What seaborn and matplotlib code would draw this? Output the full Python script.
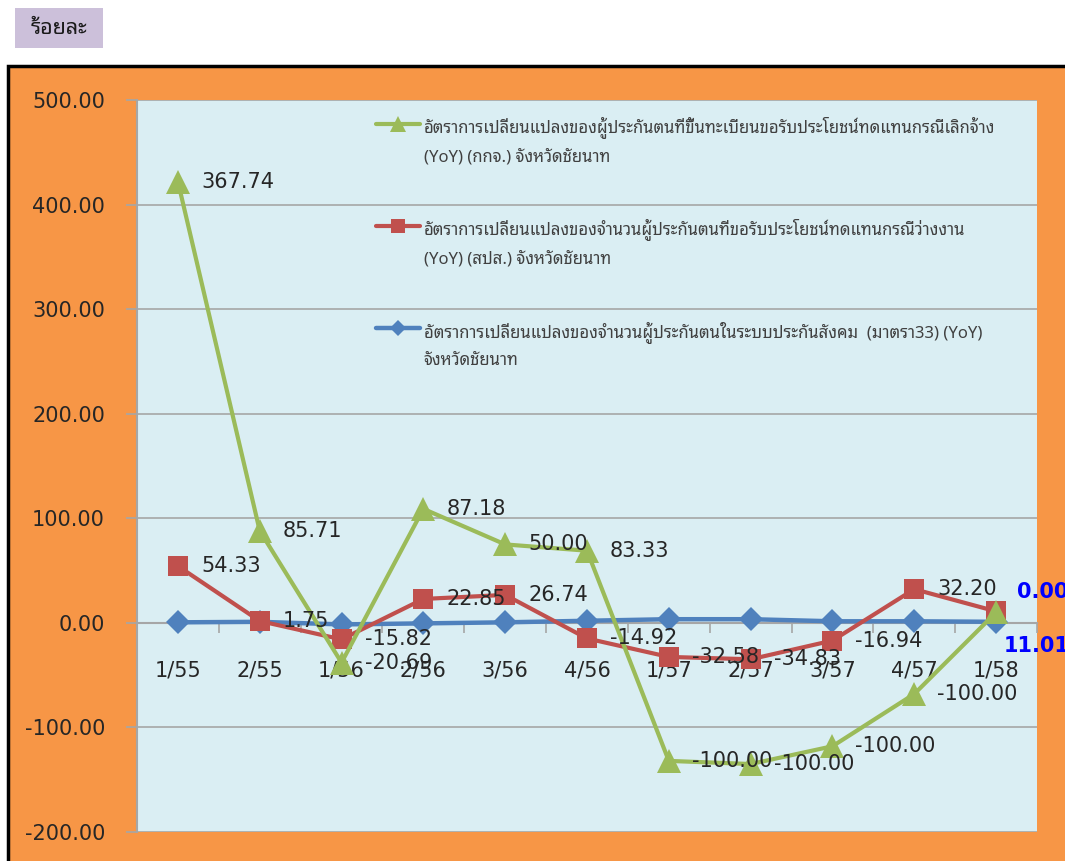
import matplotlib
matplotlib.use("Agg")
import numpy as np
import pandas as pd
import matplotlib.pyplot as plt
import seaborn as sns
from matplotlib.patches import Rectangle
from matplotlib.ticker import FormatStrFormatter, FixedLocator
from matplotlib.legend_handler import HandlerLine2D

# ข้อมูล (อ่านจากกราฟ)
quarters = ["1/55", "2/55", "1/56", "2/56", "3/56", "4/56", "1/57", "2/57", "3/57", "4/57", "1/58"]

green_vals = [422, 88, -38, 109, 75, 69, -132, -135, -118, -68, 10]
green_labels = ["367.74", "85.71", "-20.69", "87.18", "50.00", "83.33",
                "-100.00", "-100.00", "-100.00", "-100.00", "0.00"]

red_vals = [54.33, 1.75, -15.82, 22.85, 26.74, -14.92, -32.58, -34.83, -16.94, 32.20, 11.01]
red_labels = ["54.33", "1.75", "-15.82", "22.85", "26.74", "-14.92",
              "-32.58", "-34.83", "-16.94", "32.20", "11.01"]

blue_vals = [0.5, 1.0, -1.5, -0.5, 0.5, 2.0, 3.5, 3.5, 1.5, 1.5, 1.0]

green_name = "อัตราการเปลี่ยนแปลงของผู้ประกันตนที่ขึ้นทะเบียนขอรับประโยชน์ทดแทนกรณีเลิกจ้าง\n(YoY) (กกจ.) จังหวัดชัยนาท"
red_name = "อัตราการเปลี่ยนแปลงของจำนวนผู้ประกันตนที่ขอรับประโยชน์ทดแทนกรณีว่างงาน\n(YoY) (สปส.) จังหวัดชัยนาท"
blue_name = "อัตราการเปลี่ยนแปลงของจำนวนผู้ประกันตนในระบบประกันสังคม  (มาตรา33) (YoY)\nจังหวัดชัยนาท"

df = pd.DataFrame({"q": quarters, "green": green_vals, "red": red_vals, "blue": blue_vals})

sns.set_style("white")
plt.rcParams["font.family"] = ["DejaVu Sans"]
thai = ["Noto Sans Thai Looped", "DejaVu Sans"]

c_green = "#9BBB59"
c_red = "#C0504D"
c_blue = "#4F81BD"
c_orange = "#F79646"
c_plot = "#DAEEF3"
c_grid = "#A6A6A6"
c_txt = "#262626"

fig = plt.figure(figsize=(10.65, 8.61), dpi=100, facecolor="white")
W, H = 1065, 861

# พื้นหลังส้ม
fig.patches.append(Rectangle((8 / W, -0.2), 1.2, (1 - 66 / H) + 0.2, transform=fig.transFigure,
                             facecolor=c_orange, edgecolor="black", linewidth=2.5, zorder=-2))
# กล่อง "ร้อยละ"
fig.patches.append(Rectangle((15 / W, 1 - 48 / H), 88 / W, 40 / H, transform=fig.transFigure,
                             facecolor="#CCC0DA", edgecolor="none", zorder=-1))
fig.text(59 / W, 1 - 28 / H, "ร้อยละ", family=thai, fontsize=15.5, color="#1a1a1a",
         fontweight="light", ha="center", va="center")

ax = fig.add_axes([137 / W, 1 - 832 / H, 900 / W, 732 / H])
ax.set_facecolor(c_plot)

sns.lineplot(data=df, x="q", y="blue", ax=ax, color=c_blue, marker="D", markersize=12,
             markeredgewidth=0, linewidth=3.2, sort=False, label=blue_name, zorder=3)
sns.lineplot(data=df, x="q", y="red", ax=ax, color=c_red, marker="s", markersize=15,
             markeredgewidth=0, linewidth=3, sort=False, label=red_name, zorder=4)
sns.lineplot(data=df, x="q", y="green", ax=ax, color=c_green, marker="^", markersize=17,
             markeredgewidth=0, linewidth=3, sort=False, label=green_name, zorder=5)

ax.set_xlim(-0.5, 10.5)
ax.set_ylim(-200, 500)
ax.set_xlabel("")
ax.set_ylabel("")

# แกน y
ax.yaxis.set_major_locator(FixedLocator(np.arange(-200, 501, 100)))
ax.yaxis.set_major_formatter(FormatStrFormatter("%.2f"))
ax.grid(axis="y", color=c_grid, linewidth=1.2)
ax.grid(axis="x", visible=False)
ax.tick_params(axis="y", which="major", left=True, length=8, width=1.2, color=c_grid,
               pad=15, labelsize=15, labelcolor=c_txt)

# แกน x ตัดที่ 0
for s in ["top", "right"]:
    ax.spines[s].set_visible(False)
ax.spines["left"].set_color(c_grid)
ax.spines["left"].set_linewidth(1.5)
ax.spines["bottom"].set_position(("data", 0))
ax.spines["bottom"].set_color(c_grid)
ax.spines["bottom"].set_linewidth(1.5)
ax.spines["bottom"].set_zorder(2)
ax.set_xticks(range(len(quarters)))
ax.set_xticklabels(quarters)
ax.set_xticks(np.arange(0.5, 11, 1), minor=True)
ax.tick_params(axis="x", which="major", bottom=True, length=0, pad=27, labelsize=15,
               labelcolor=c_txt)
ax.tick_params(axis="x", which="minor", bottom=True, length=7, width=1.2, color=c_grid,
               direction="out")

# ป้ายข้อมูล
def px(v):
    return v / 1.39

for i, (v, t) in enumerate(zip(green_vals, green_labels)):
    if i == len(green_vals) - 1:
        ax.annotate(t, (i, v), xytext=(px(21), px(20)), textcoords="offset points",
                    fontsize=15, color="#0000FF", fontweight="bold", va="center", zorder=6,
                    annotation_clip=False)
    else:
        ax.annotate(t, (i, v), xytext=(px(23), 0), textcoords="offset points",
                    fontsize=15, color=c_txt, va="center", zorder=6)

for i, (v, t) in enumerate(zip(red_vals, red_labels)):
    if i == len(red_vals) - 1:
        ax.annotate(t, (i, v), xytext=(px(8), px(-35)), textcoords="offset points",
                    fontsize=15, color="#0000FF", fontweight="bold", va="center", zorder=6,
                    annotation_clip=False)
    else:
        ax.annotate(t, (i, v), xytext=(px(23), 0), textcoords="offset points",
                    fontsize=15, color=c_txt, va="center", zorder=6)


# legend: สัญลักษณ์อยู่ระดับบรรทัดแรก
class FirstLineHandler(HandlerLine2D):
    def create_artists(self, legend, orig_handle, xdescent, ydescent, width, height,
                       fontsize, trans):
        arts = super().create_artists(legend, orig_handle, xdescent, ydescent, width,
                                      height, fontsize, trans)
        for a in arts:
            a.set_ydata(np.asarray(a.get_ydata()) + 12)
        return arts


handles, labels = ax.get_legend_handles_labels()
order = [2, 1, 0]
leg = ax.legend([handles[k] for k in order], [labels[k] for k in order],
                loc="upper left", bbox_to_anchor=((376 - 137) / 900, 1 - 16 / 732),
                frameon=False, prop={"family": thai, "size": 12}, labelcolor="#404040",
                handlelength=2.65, handletextpad=0.2, labelspacing=3.2, borderpad=0,
                borderaxespad=0, markerscale=0.7,
                handler_map={h: FirstLineHandler() for h in handles})
for t in leg.get_texts():
    t.set_linespacing(1.85)

fig.savefig("out.png", dpi=100, facecolor=fig.get_facecolor())
